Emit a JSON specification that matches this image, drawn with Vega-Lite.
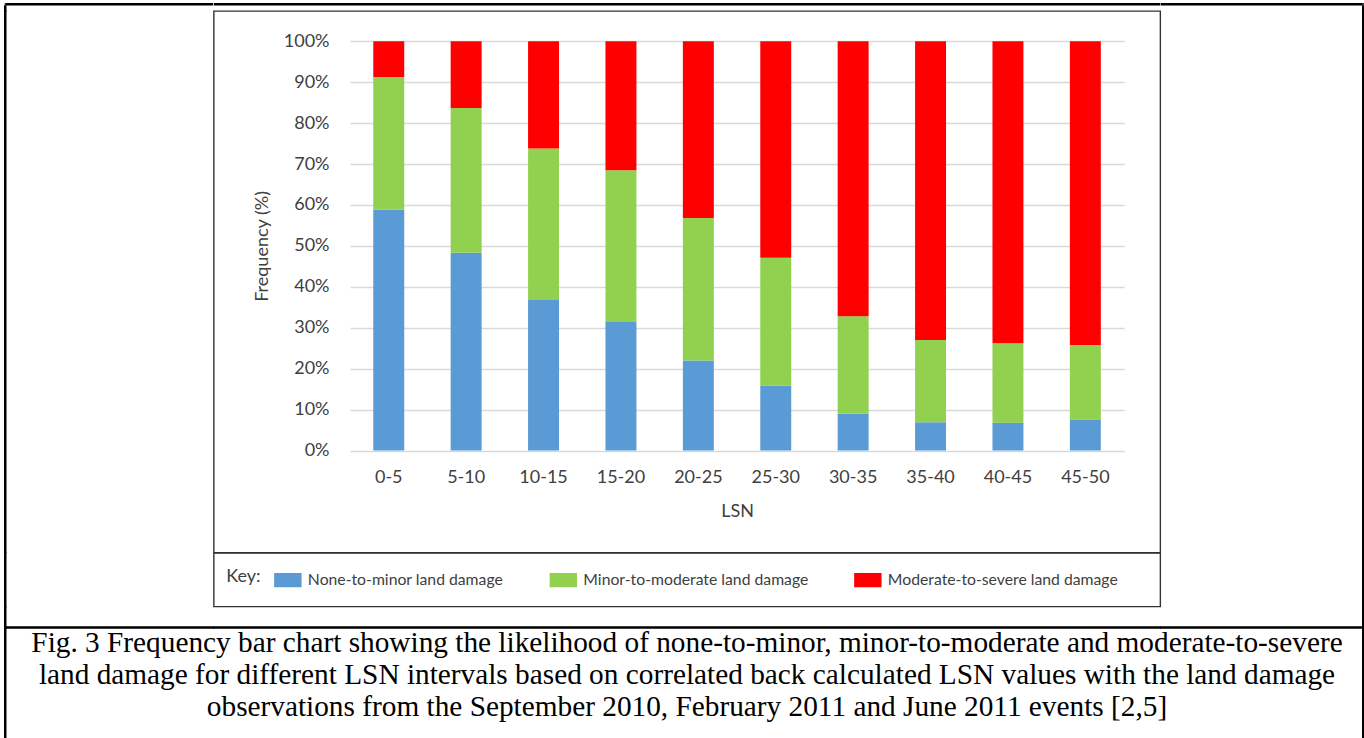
{
  "$schema": "https://vega.github.io/schema/vega-lite/v6.json",
  "padding": {"left": 3.75, "top": 3, "right": 0, "bottom": 0},
  "columns": 5,
  "spacing": 0,
  "bounds": "flush",
  "align": "each",
  "config": {
    "view": {"stroke": null},
    "concat": {"spacing": 0},
    "font": "Lato",
    "axis": {"labelFont": "Lato", "titleFont": "Lato"},
    "legend": {"labelFont": "Lato", "titleFont": "Lato"}
  },
  "datasets": {
    "freq": [
      {"LSN": "0-5", "damage": "None-to-minor land damage", "severity": 1, "pct": 58.9},
      {"LSN": "0-5", "damage": "Minor-to-moderate land damage", "severity": 2, "pct": 32.4},
      {"LSN": "0-5", "damage": "Moderate-to-severe land damage", "severity": 3, "pct": 8.7},
      {"LSN": "5-10", "damage": "None-to-minor land damage", "severity": 1, "pct": 48.3},
      {"LSN": "5-10", "damage": "Minor-to-moderate land damage", "severity": 2, "pct": 35.4},
      {"LSN": "5-10", "damage": "Moderate-to-severe land damage", "severity": 3, "pct": 16.3},
      {"LSN": "10-15", "damage": "None-to-minor land damage", "severity": 1, "pct": 36.8},
      {"LSN": "10-15", "damage": "Minor-to-moderate land damage", "severity": 2, "pct": 37.0},
      {"LSN": "10-15", "damage": "Moderate-to-severe land damage", "severity": 3, "pct": 26.2},
      {"LSN": "15-20", "damage": "None-to-minor land damage", "severity": 1, "pct": 31.4},
      {"LSN": "15-20", "damage": "Minor-to-moderate land damage", "severity": 2, "pct": 37.1},
      {"LSN": "15-20", "damage": "Moderate-to-severe land damage", "severity": 3, "pct": 31.5},
      {"LSN": "20-25", "damage": "None-to-minor land damage", "severity": 1, "pct": 22.0},
      {"LSN": "20-25", "damage": "Minor-to-moderate land damage", "severity": 2, "pct": 34.8},
      {"LSN": "20-25", "damage": "Moderate-to-severe land damage", "severity": 3, "pct": 43.2},
      {"LSN": "25-30", "damage": "None-to-minor land damage", "severity": 1, "pct": 15.9},
      {"LSN": "25-30", "damage": "Minor-to-moderate land damage", "severity": 2, "pct": 31.2},
      {"LSN": "25-30", "damage": "Moderate-to-severe land damage", "severity": 3, "pct": 52.9},
      {"LSN": "30-35", "damage": "None-to-minor land damage", "severity": 1, "pct": 9.0},
      {"LSN": "30-35", "damage": "Minor-to-moderate land damage", "severity": 2, "pct": 23.8},
      {"LSN": "30-35", "damage": "Moderate-to-severe land damage", "severity": 3, "pct": 67.2},
      {"LSN": "35-40", "damage": "None-to-minor land damage", "severity": 1, "pct": 6.9},
      {"LSN": "35-40", "damage": "Minor-to-moderate land damage", "severity": 2, "pct": 20.1},
      {"LSN": "35-40", "damage": "Moderate-to-severe land damage", "severity": 3, "pct": 73.0},
      {"LSN": "40-45", "damage": "None-to-minor land damage", "severity": 1, "pct": 6.8},
      {"LSN": "40-45", "damage": "Minor-to-moderate land damage", "severity": 2, "pct": 19.4},
      {"LSN": "40-45", "damage": "Moderate-to-severe land damage", "severity": 3, "pct": 73.8},
      {"LSN": "45-50", "damage": "None-to-minor land damage", "severity": 1, "pct": 7.6},
      {"LSN": "45-50", "damage": "Minor-to-moderate land damage", "severity": 2, "pct": 18.2},
      {"LSN": "45-50", "damage": "Moderate-to-severe land damage", "severity": 3, "pct": 74.2}
    ],
    "caption": [
      {"line": 1, "text": "Fig. 3 Frequency bar chart showing the likelihood of none-to-minor, minor-to-moderate and moderate-to-severe"},
      {"line": 2, "text": "land damage for different LSN intervals based on correlated back calculated LSN values with the land damage"},
      {"line": 3, "text": "observations from the September 2010, February 2011 and June 2011 events [2,5]"}
    ]
  },
  "concat": [
    {"width": 1, "height": 2.5, "data": {"values": []}, "mark": "rect", "encoding": {}, "view": {"fill": "#000000"}},
    {"width": 207.25, "height": 2.5, "data": {"values": []}, "mark": "rect", "encoding": {}, "view": {"fill": "#000000"}},
    {"width": 946.5, "height": 2.5, "data": {"values": []}, "mark": "rect", "encoding": {}, "view": {"fill": "#000000"}},
    {"width": 202, "height": 2.5, "data": {"values": []}, "mark": "rect", "encoding": {}, "view": {"fill": "#000000"}},
    {"width": 1, "height": 2.5, "data": {"values": []}, "mark": "rect", "encoding": {}, "view": {"fill": "#000000"}},

    {"width": 1, "height": 5, "data": {"values": []}, "mark": "rect", "encoding": {}, "view": {"stroke": "#000000", "strokeWidth": 1.5}},
    {"width": 207.25, "height": 5, "data": {"values": []}, "mark": "rect", "encoding": {}},
    {"width": 946.5, "height": 5, "data": {"values": []}, "mark": "rect", "encoding": {}},
    {"width": 202, "height": 5, "data": {"values": []}, "mark": "rect", "encoding": {}},
    {"width": 1, "height": 5, "data": {"values": []}, "mark": "rect", "encoding": {}, "view": {"stroke": "#000000", "strokeWidth": 1.5}},

    {"width": 1, "height": 541.5, "data": {"values": []}, "mark": "rect", "encoding": {}, "view": {"stroke": "#000000", "strokeWidth": 1.5}},
    {"width": 207.25, "height": 541.5, "data": {"values": []}, "mark": "rect", "encoding": {}},
    {
      "width": 946.5, "height": 541.5,
      "data": {"name": "freq"},
      "view": {"stroke": "#333333", "strokeWidth": 1.4},
      "mark": {"type": "bar"},
      "encoding": {
        "x": {
          "field": "LSN", "type": "nominal",
          "sort": ["0-5", "5-10", "10-15", "15-20", "20-25", "25-30", "30-35", "35-40", "40-45", "45-50"],
          "scale": {"range": [136.3, 910.3], "paddingInner": 0.6, "paddingOuter": 0.3},
          "axis": {
            "title": "LSN", "orient": "bottom", "offset": -102,
            "domain": false, "ticks": false, "tickSize": 0, "grid": false,
            "labelAngle": 0, "labelPadding": 18, "labelFontSize": 18, "labelColor": "#404040",
            "titleFontSize": 18, "titleFontWeight": "normal", "titleColor": "#404040", "titlePadding": 16
          }
        },
        "y": {
          "field": "pct", "type": "quantitative", "stack": "zero",
          "scale": {"domain": [0, 100], "range": [439.5, 30.3], "nice": false},
          "axis": {
            "title": "Frequency (%)", "orient": "left", "offset": -136.3,
            "values": [0, 10, 20, 30, 40, 50, 60, 70, 80, 90, 100],
            "labelExpr": "datum.value + '%'",
            "domain": false, "ticks": false, "tickSize": 0,
            "grid": true, "gridColor": "#d9d9d9", "gridWidth": 1.5,
            "labelPadding": 21, "labelFontSize": 18, "labelColor": "#404040",
            "titleFontSize": 18, "titleFontWeight": "normal", "titleColor": "#404040", "titlePadding": 11.5
          }
        },
        "color": {
          "field": "damage", "type": "nominal",
          "scale": {
            "domain": ["None-to-minor land damage", "Minor-to-moderate land damage", "Moderate-to-severe land damage"],
            "range": ["#5b9bd5", "#92d050", "#ff0000"]
          },
          "legend": {
            "orient": "none", "legendX": 221.5, "legendY": 563,
            "direction": "horizontal", "columns": 3,
            "title": "Key:", "titleOrient": "left", "titleAnchor": "middle", "titleBaseline": "middle",
            "titleFontSize": 18, "titleFontWeight": "normal",
            "titleColor": "#404040", "titlePadding": 12.6,
            "labelFontSize": 15.75, "labelColor": "#404040", "labelOffset": 6, "labelLimit": 400,
            "columnPadding": 45.5,
            "symbolType": "M-1,-0.52H1V0.52H-1Z", "symbolSize": 751, "symbolStrokeWidth": 0, "symbolOpacity": 1
          }
        },
        "order": {"field": "severity", "type": "quantitative"}
      }
    },
    {"width": 202, "height": 541.5, "data": {"values": []}, "mark": "rect", "encoding": {}},
    {"width": 1, "height": 541.5, "data": {"values": []}, "mark": "rect", "encoding": {}, "view": {"stroke": "#000000", "strokeWidth": 1.5}},

    {"width": 1, "height": 53.5, "data": {"values": []}, "mark": "rect", "encoding": {}, "view": {"stroke": "#000000", "strokeWidth": 1.5}},
    {"width": 207.25, "height": 53.5, "data": {"values": []}, "mark": "rect", "encoding": {}},
    {"width": 946.5, "height": 53.5, "data": {"values": []}, "mark": "rect", "encoding": {}, "view": {"stroke": "#333333", "strokeWidth": 1.4}},
    {"width": 202, "height": 53.5, "data": {"values": []}, "mark": "rect", "encoding": {}},
    {"width": 1, "height": 53.5, "data": {"values": []}, "mark": "rect", "encoding": {}, "view": {"stroke": "#000000", "strokeWidth": 1.5}},

    {"width": 1, "height": 20, "data": {"values": []}, "mark": "rect", "encoding": {}, "view": {"stroke": "#000000", "strokeWidth": 1.5}},
    {"width": 207.25, "height": 20, "data": {"values": []}, "mark": "rect", "encoding": {}},
    {"width": 946.5, "height": 20, "data": {"values": []}, "mark": "rect", "encoding": {}},
    {"width": 202, "height": 20, "data": {"values": []}, "mark": "rect", "encoding": {}},
    {"width": 1, "height": 20, "data": {"values": []}, "mark": "rect", "encoding": {}, "view": {"stroke": "#000000", "strokeWidth": 1.5}},

    {"width": 1, "height": 1, "data": {"values": []}, "mark": "rect", "encoding": {}, "view": {"stroke": "#000000", "strokeWidth": 1.5}},
    {"width": 207.25, "height": 1, "data": {"values": []}, "mark": "rect", "encoding": {}, "view": {"stroke": "#000000", "strokeWidth": 1.5}},
    {"width": 946.5, "height": 1, "data": {"values": []}, "mark": "rect", "encoding": {}, "view": {"stroke": "#000000", "strokeWidth": 1.5}},
    {"width": 202, "height": 1, "data": {"values": []}, "mark": "rect", "encoding": {}, "view": {"stroke": "#000000", "strokeWidth": 1.5}},
    {"width": 1, "height": 1, "data": {"values": []}, "mark": "rect", "encoding": {}, "view": {"stroke": "#000000", "strokeWidth": 1.5}},

    {"width": 1, "height": 116, "data": {"values": []}, "mark": "rect", "encoding": {}, "view": {"stroke": "#000000", "strokeWidth": 1.5}},
    {"width": 207.25, "height": 116, "data": {"values": []}, "mark": "rect", "encoding": {}},
    {
      "width": 946.5, "height": 116,
      "data": {"name": "caption"},
      "mark": {"type": "text", "font": "Liberation Serif", "fontSize": 29.3, "baseline": "alphabetic", "color": "#000000"},
      "encoding": {
        "y": {"field": "line", "type": "ordinal", "scale": {"type": "point", "range": [23.5, 87.5], "padding": 0}, "axis": null},
        "text": {"field": "text", "type": "nominal"}
      }
    },
    {"width": 202, "height": 116, "data": {"values": []}, "mark": "rect", "encoding": {}},
    {"width": 1, "height": 116, "data": {"values": []}, "mark": "rect", "encoding": {}, "view": {"stroke": "#000000", "strokeWidth": 1.5}}
  ]
}
